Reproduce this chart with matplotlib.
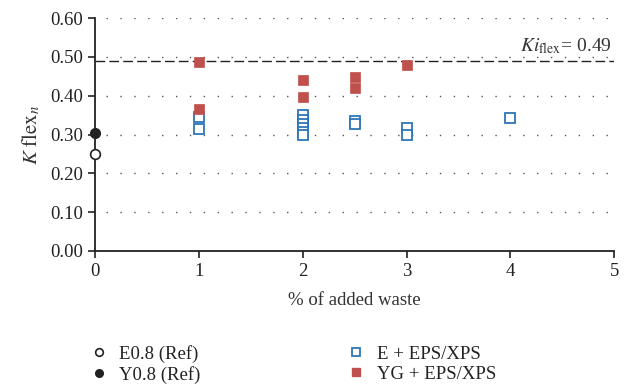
import matplotlib.pyplot as plt
from matplotlib.lines import Line2D

plt.rcParams['font.family'] = ['Liberation Serif', 'DejaVu Serif']
plt.rcParams['mathtext.fontset'] = 'stix'

# reference mixes at 0 % waste
e_ref_x = [0]
e_ref_y = [0.25]
y_ref_x = [0]
y_ref_y = [0.305]

# E + EPS/XPS
e_x = [1, 1, 2, 2, 2, 2, 2, 2, 2.5, 2.5, 3, 3, 4]
e_y = [0.345, 0.313, 0.35, 0.337, 0.326, 0.318, 0.307, 0.298, 0.336, 0.326, 0.317, 0.298, 0.343]

# YG + EPS/XPS
yg_x = [1, 1, 2, 2, 2.5, 2.5, 3]
yg_y = [0.487, 0.366, 0.44, 0.397, 0.447, 0.421, 0.478]

ki_flex = 0.49

blue = '#2e75b6'
red = '#c0504d'

fig = plt.figure(figsize=(6.3, 3.86), dpi=100)
ax = fig.add_axes([0.151, 0.35, 0.824, 0.603])

for v in [0.1, 0.2, 0.3, 0.4, 0.5, 0.6]:
    ax.axhline(v, xmin=0.02, color='#555555', lw=1.0, ls=(0, (1, 9)), zorder=0)
ax.axhline(ki_flex, color='#222222', lw=1.0, ls=(0, (7, 3)), zorder=1)
ax.text(4.98, ki_flex + 0.012, r'$Ki_{\mathrm{flex}}$= 0.49', ha='right', va='bottom',
        fontsize=14, color='#333333')

ax.plot(e_x, e_y, 's', ms=7.5, mfc='white', mec=blue, mew=1.3, ls='none', zorder=3)
ax.plot(yg_x, yg_y, 's', ms=7.5, mfc=red, mec=red, mew=0.5, ls='none', zorder=3)
ax.plot(e_ref_x, e_ref_y, 'o', ms=7, mfc='white', mec='#222222', mew=1.2, ls='none',
        clip_on=False, zorder=4)
ax.plot(y_ref_x, y_ref_y, 'o', ms=7, mfc='#222222', mec='#222222', ls='none',
        clip_on=False, zorder=4)

ax.set_xlim(0, 5)
ax.set_ylim(0, 0.6)
ax.set_xticks([0, 1, 2, 3, 4, 5])
ax.set_yticks([0, 0.1, 0.2, 0.3, 0.4, 0.5, 0.6])
ax.set_yticklabels(['%.2f' % t for t in ax.get_yticks()])
ax.tick_params(labelsize=13.5, colors='#222222', length=5, width=1.2)
for s in ['top', 'right']:
    ax.spines[s].set_visible(False)
for s in ['left', 'bottom']:
    ax.spines[s].set_linewidth(1.3)
    ax.spines[s].set_color('#222222')

ax.set_xlabel('% of added waste', fontsize=13.5, color='#333333', labelpad=9)
ax.set_ylabel(r'$K\ \mathrm{flex}_n$', fontsize=15, color='#333333', labelpad=6)

handles = [
    Line2D([], [], marker='o', ls='none', ms=5.5, mfc='white', mec='#222222', mew=1.2),
    Line2D([], [], marker='o', ls='none', ms=5.5, mfc='#222222', mec='#222222'),
    Line2D([], [], marker='s', ls='none', ms=5.5, mfc='white', mec=blue, mew=1.3),
    Line2D([], [], marker='s', ls='none', ms=5.5, mfc=red, mec=red),
]
labels = ['E0.8 (Ref)', 'Y0.8 (Ref)', 'E + EPS/XPS', 'YG + EPS/XPS']
fig.legend(handles, labels, ncol=2, loc='upper left', bbox_to_anchor=(0.115, 0.15),
           frameon=False, fontsize=13.5, handlelength=1.0, handletextpad=0.6,
           columnspacing=7.8, labelspacing=0.15, labelcolor='#222222')

fig.savefig('out.png', dpi=100)
